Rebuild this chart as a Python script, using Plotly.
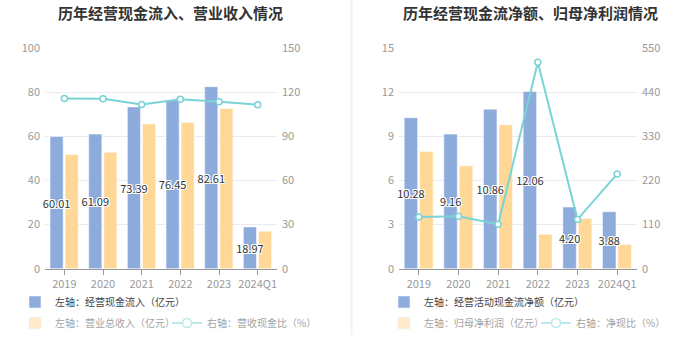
import plotly.graph_objects as go

years = ["2019", "2020", "2021", "2022", "2023", "2024Q1"]

# Left chart
cash_inflow = [60.01, 61.09, 73.39, 76.45, 82.61, 18.97]
revenue = [51.8, 52.8, 65.7, 66.3, 72.7, 17.0]
cash_rev_ratio = [115.9, 115.6, 111.7, 115.3, 113.6, 111.6]

# Right chart
op_cash_net = [10.28, 9.16, 10.86, 12.06, 4.20, 3.88]
net_profit = [7.98, 7.0, 9.8, 2.34, 3.41, 1.64]
net_cash_ratio = [128.8, 130.9, 110.8, 515.0, 123.0, 236.6]

titles = ["历年经营现金流入、营业收入情况", "历年经营现金流净额、归母净利润情况"]
legend_names_l = ["左轴：经营现金流入（亿元）", "左轴：营业总收入（亿元）", "右轴：营收现金比（%）"]
legend_names_r = ["左轴：经营活动现金流净额（亿元）", "左轴：归母净利润（亿元）", "右轴：净现比（%）"]

BLUE = "#8eacdb"
YELLOW = "#ffd898"
CYAN = "#79d3d7"
FONT = "Noto Sans CJK SC"
SHADOW = "-1px -1px 0 #fff, 1px -1px 0 #fff, -1px 1px 0 #fff, 1px 1px 0 #fff, 0 1px 0 #fff, 0 -1px 0 #fff, 1px 0 0 #fff, -1px 0 0 #fff"

fig = go.Figure()

def add_panel(xa, ya, ya2, blue_vals, yellow_vals, ratio_vals, names, lg1, lg2):
    # yellow bars first (drawn below blue labels)
    fig.add_trace(go.Bar(x=years, y=yellow_vals, xaxis=xa, yaxis=ya, name=names[1],
                         marker=dict(color=YELLOW, line=dict(color="white", width=0.5)),
                         offset=0.02, width=0.34, showlegend=False, hoverinfo="skip"))
    fig.add_trace(go.Bar(x=years, y=blue_vals, xaxis=xa, yaxis=ya, name=names[0],
                         marker=dict(color=BLUE, line=dict(color="white", width=0.5)),
                         offset=-0.37, width=0.34, legend=lg1, showlegend=True,
                         text=[f"{v:.2f}" for v in blue_vals], textposition="inside",
                         insidetextanchor="middle", constraintext="none", textangle=0,
                         insidetextfont=dict(color="#333333", size=11, family=FONT, shadow=SHADOW),
                         cliponaxis=False, hoverinfo="skip"))
    fig.add_trace(go.Scatter(x=years, y=ratio_vals, xaxis=xa, yaxis=ya2, name=names[2],
                             mode="lines+markers", line=dict(color=CYAN, width=2),
                             marker=dict(symbol="circle", size=6, color="white",
                                         line=dict(color=CYAN, width=1.5)),
                             showlegend=False, cliponaxis=False, hoverinfo="skip"))
    # legend-only entries (rendered faded, like the reference)
    fig.add_trace(go.Bar(x=years, y=yellow_vals, xaxis=xa, yaxis=ya, name=names[1],
                         marker=dict(color=YELLOW), visible="legendonly", legend=lg2))
    fig.add_trace(go.Scatter(x=years, y=ratio_vals, xaxis=xa, yaxis=ya2, name=names[2],
                             mode="lines+markers", line=dict(color=CYAN, width=2),
                             marker=dict(symbol="circle", size=9, color="white",
                                         line=dict(color=CYAN, width=1.5)),
                             visible="legendonly", legend=lg2))

add_panel("x", "y", "y2", cash_inflow, revenue, cash_rev_ratio, legend_names_l, "legend", "legend2")
add_panel("x2", "y3", "y4", op_cash_net, net_profit, net_cash_ratio, legend_names_r, "legend3", "legend4")

W, H = 700, 360
ydom = [1 - 268.7 / H, 1 - 48.3 / H]
tickfont = dict(family=FONT, size=11, color="#999999")

xcommon = dict(type="category", showgrid=False, showline=True, linecolor="#999999", linewidth=1,
               ticks="outside", ticklen=5, tickcolor="#999999", tickfont=tickfont, range=[-0.5, 5.5])
yleft = dict(showgrid=True, gridcolor="#e8ebf3", gridwidth=1, zeroline=False, showline=False,
             tickfont=tickfont, ticklabelstandoff=4)
yright = dict(showgrid=False, zeroline=False, showline=False, side="right",
              tickfont=tickfont, ticklabelstandoff=4)

legfont1 = dict(family=FONT, size=10, color="#444444")

fig.update_layout(
    width=W, height=H, margin=dict(l=0, r=0, t=0, b=0, autoexpand=False),
    paper_bgcolor="white", plot_bgcolor="white",
    barmode="overlay", hovermode=False,
    font=dict(family=FONT),
    xaxis=dict(domain=[45 / W, 277 / W], anchor="y", **xcommon),
    xaxis2=dict(domain=[399 / W, 637 / W], anchor="y3", **xcommon),
    yaxis=dict(domain=ydom, anchor="x", range=[0, 100], dtick=20, **yleft),
    yaxis2=dict(overlaying="y", anchor="x", range=[0, 150], dtick=30, **yright),
    yaxis3=dict(domain=ydom, anchor="x2", range=[0, 15], dtick=3, **yleft),
    yaxis4=dict(overlaying="y3", anchor="x2", range=[0, 550], dtick=110, **yright),
    legend=dict(x=15 / W, y=1 - 302 / H, xanchor="left", yanchor="middle",
                orientation="h", font=legfont1, bgcolor="rgba(0,0,0,0)", itemclick=False),
    legend2=dict(x=15 / W, y=1 - 323 / H, xanchor="left", yanchor="middle",
                 orientation="h", font=legfont1, bgcolor="rgba(0,0,0,0)",
                 entrywidth=107, itemclick=False),
    legend3=dict(x=384 / W, y=1 - 302 / H, xanchor="left", yanchor="middle",
                 orientation="h", font=legfont1, bgcolor="rgba(0,0,0,0)", itemclick=False),
    legend4=dict(x=384 / W, y=1 - 323 / H, xanchor="left", yanchor="middle",
                 orientation="h", font=legfont1, bgcolor="rgba(0,0,0,0)",
                 entrywidth=107, itemclick=False),
    annotations=[
        dict(text=f"<b>{titles[0]}</b>", x=170 / W, y=1 - 13 / H, xref="paper", yref="paper",
             showarrow=False, xanchor="center", yanchor="middle",
             font=dict(family=FONT, size=15, color="#333333")),
        dict(text=f"<b>{titles[1]}</b>", x=530 / W, y=1 - 13 / H, xref="paper", yref="paper",
             showarrow=False, xanchor="center", yanchor="middle",
             font=dict(family=FONT, size=15, color="#333333")),
    ],
    shapes=[dict(type="line", xref="paper", yref="paper", x0=351.5 / W, x1=351.5 / W,
                 y0=1 - 335 / H, y1=1, line=dict(color="#f2f2f2", width=2))],
)

fig.write_html("out.html", config={"displayModeBar": False},
               post_script="document.documentElement.style.margin='0';document.body.style.margin='0';document.body.style.padding='0';")
